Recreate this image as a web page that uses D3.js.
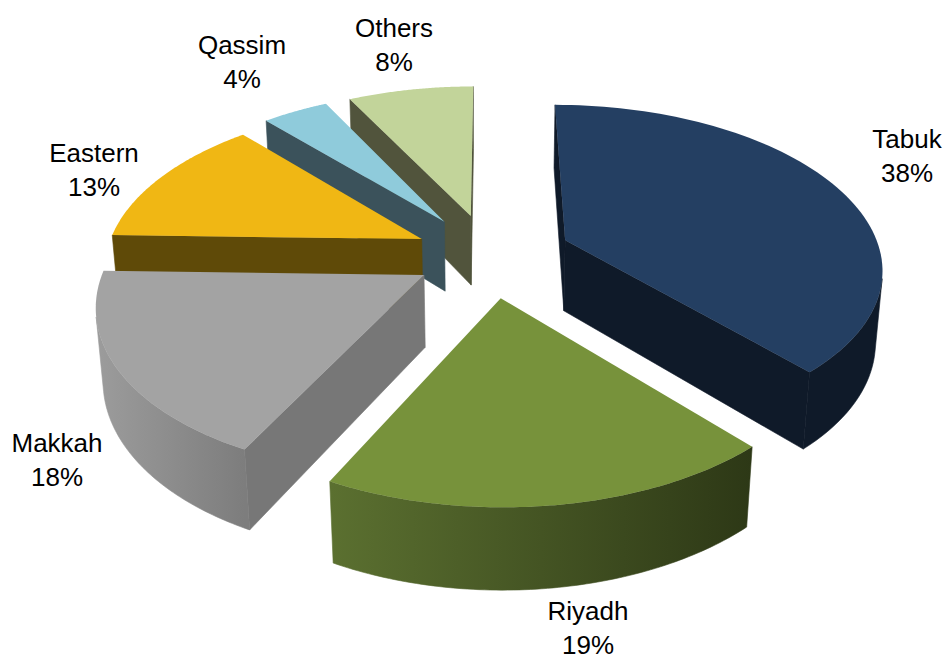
<!DOCTYPE html>
<html>
<head>
<meta charset="utf-8">
<script src="https://d3js.org/d3.v7.min.js"></script>
<style>
  html, body { margin: 0; padding: 0; background: #fff; }
  text { font-family: "Liberation Sans", Arial, sans-serif; font-size: 26px; fill: #000; }
</style>
</head>
<body>
<div id="chart"></div>
<script>
// values (labels show them rounded)
var regions = ["Tabuk", "Riyadh", "Makkah", "Eastern", "Qassim", "Others"];
var shares = [38.4, 19, 18, 13, 4, 7.6];

// styles, same order as regions
var topColors = ["#243f62", "#77923b", "#a3a3a3", "#f0b714", "#8fcbdb", "#c2d49a"];
var wallColors = ["#0f1a29", "#4a5c25", "#777777", "#5f4a08", "#3b525b", "#51543c"];
var rimLeft = ["#0f1a29", "#5b7030", "#9c9c9c", "#5f4a08", "#3b525b", "#51543c"];
var rimRight = ["#0f1a29", "#2d3816", "#7d7d7d", "#5f4a08", "#3b525b", "#51543c"];
var labelPos = [[907, 148], [588, 620], [57, 452], [94, 162], [242, 54], [394, 37]];
var explode = [0.26, 0.26, 0.237, 0.24, 0.26, 0.26];

var w = 946, h = 660;

// projection of the tilted pie
var cx = 489.5, cy = 255, radiusX = 316, radiusY = 161, depth = 72.5;
var perspective = 0.157, shrink = 0.018;
var startDeg = 0;

function project(u, v, z) {
    var k = 1 / (1 - perspective * v + shrink * z);
    return [cx + radiusX * u * k, cy + (radiusY * v + depth * z) * k];
}

var pie = d3.pie().sort(null)
    .startAngle(startDeg * Math.PI / 180)
    .endAngle((startDeg + 360) * Math.PI / 180);

var slices = pie(shares);
var line = d3.line();

var svg = d3.select("#chart").append("svg")
    .attr("width", w)
    .attr("height", h)
    .style("display", "block");
var defs = svg.append("defs");

// far slices get painted first
var order = d3.range(slices.length).sort(function(a, b) {
    var ma = (slices[a].startAngle + slices[a].endAngle) / 2;
    var mb = (slices[b].startAngle + slices[b].endAngle) / 2;
    return -Math.cos(ma) - -Math.cos(mb);
});

order.forEach(function(i) {
    var s = slices[i];
    var mid = (s.startAngle + s.endAngle) / 2;
    var ou = Math.sin(mid) * explode[i];
    var ov = -Math.cos(mid) * explode[i];
    var steps = 80;
    var angles = d3.range(0, steps + 1).map(function(n) {
        return s.startAngle + (s.endAngle - s.startAngle) * n / steps;
    });

    function rimPoint(a, z) {
        return project(ou + Math.sin(a), ov - Math.cos(a), z);
    }
    var topArc = angles.map(function(a) { return rimPoint(a, 0); });
    var lowArc = angles.map(function(a) { return rimPoint(a, 1); });
    var apexTop = project(ou, ov, 0);
    var apexLow = project(ou, ov, 1);

    var g = svg.append("g").attr("class", "slice");

    // the two cut faces, only when turned towards us
    var startFace = [apexTop, topArc[0], lowArc[0], apexLow];
    var endFace = [apexTop, topArc[steps], lowArc[steps], apexLow];
    if (d3.polygonArea(startFace) > 0) {
        g.append("path").attr("d", line(startFace) + "Z")
            .attr("fill", wallColors[i]).attr("stroke", wallColors[i]).attr("stroke-width", 0.6);
    }
    if (d3.polygonArea(endFace) < 0) {
        g.append("path").attr("d", line(endFace) + "Z")
            .attr("fill", wallColors[i]).attr("stroke", wallColors[i]).attr("stroke-width", 0.6);
    }

    // keep only the part of the rim that looks at the viewer
    var front = d3.range(0, steps).filter(function(n) {
        return d3.polygonArea([topArc[n], topArc[n + 1], lowArc[n + 1], lowArc[n]]) > 0;
    });
    if (front.length) {
        var first = front[0], last = front[front.length - 1] + 1;
        var rimTop = topArc.slice(first, last + 1);
        var rimLow = lowArc.slice(first, last + 1);
        var xs = rimTop.map(function(p) { return p[0]; });
        var grad = defs.append("linearGradient")
            .attr("id", "rim" + i)
            .attr("gradientUnits", "userSpaceOnUse")
            .attr("x1", d3.min(xs)).attr("x2", d3.max(xs))
            .attr("y1", 0).attr("y2", 0);
        grad.append("stop").attr("offset", 0).attr("stop-color", rimLeft[i]);
        grad.append("stop").attr("offset", 1).attr("stop-color", rimRight[i]);

        g.append("path")
            .attr("d", line(rimTop.concat(rimLow.slice().reverse())) + "Z")
            .attr("fill", "url(#rim" + i + ")")
            .attr("stroke", "url(#rim" + i + ")")
            .attr("stroke-width", 0.6);
    }

    g.append("path")
        .attr("d", line([apexTop].concat(topArc)) + "Z")
        .attr("fill", topColors[i]);
});

// labels, two lines each
regions.forEach(function(name, i) {
    var t = svg.append("text")
        .attr("text-anchor", "middle")
        .attr("x", labelPos[i][0])
        .attr("y", labelPos[i][1]);
    t.append("tspan").attr("x", labelPos[i][0]).text(name);
    t.append("tspan").attr("x", labelPos[i][0]).attr("dy", 34).text(Math.round(shares[i]) + "%");
});
</script>
</body>
</html>
